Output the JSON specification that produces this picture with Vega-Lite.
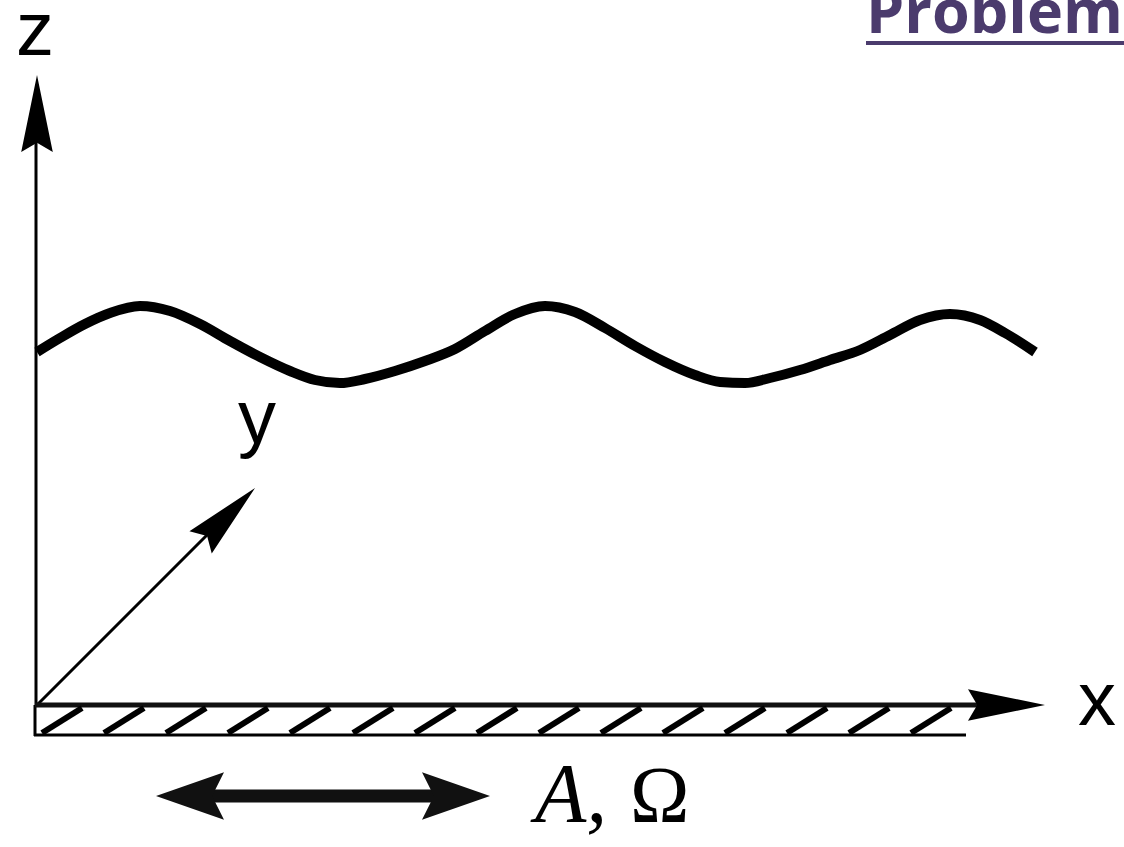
{
  "$schema": "https://vega.github.io/schema/vega-lite/v6.json",
  "width": 1124,
  "height": 847,
  "autosize": "none",
  "padding": 0,
  "background": "white",
  "config": {"view": {"stroke": null}},
  "datasets": {
    "wave": [
      {"x": 37, "z": 352}, {"x": 60, "z": 338}, {"x": 85, "z": 324}, {"x": 110, "z": 313},
      {"x": 140, "z": 306}, {"x": 170, "z": 311}, {"x": 200, "z": 324}, {"x": 230, "z": 341},
      {"x": 260, "z": 357}, {"x": 290, "z": 371}, {"x": 315, "z": 380}, {"x": 340, "z": 383},
      {"x": 365, "z": 379}, {"x": 395, "z": 371}, {"x": 425, "z": 361}, {"x": 455, "z": 349},
      {"x": 485, "z": 331}, {"x": 515, "z": 314}, {"x": 545, "z": 306}, {"x": 575, "z": 312},
      {"x": 605, "z": 328}, {"x": 635, "z": 346}, {"x": 665, "z": 362}, {"x": 695, "z": 375},
      {"x": 720, "z": 382}, {"x": 745, "z": 383}, {"x": 770, "z": 378}, {"x": 800, "z": 370},
      {"x": 830, "z": 360}, {"x": 860, "z": 350}, {"x": 890, "z": 335}, {"x": 920, "z": 320},
      {"x": 950, "z": 314}, {"x": 980, "z": 320}, {"x": 1005, "z": 333}, {"x": 1035, "z": 352}
    ],
    "thin": [
      {"x": 36, "z": 705, "x2": 36, "z2": 120},
      {"x": 37, "z": 705, "x2": 215, "z2": 527},
      {"x": 35, "z": 705, "x2": 35, "z2": 736},
      {"x": 34, "z": 735, "x2": 966, "z2": 735}
    ],
    "xaxis": [
      {"x": 35, "z": 705, "x2": 995, "z2": 705}
    ],
    "hatch": [
      {"x": 42, "z": 733, "x2": 82, "z2": 708},
      {"x": 104, "z": 733, "x2": 144, "z2": 708},
      {"x": 166, "z": 733, "x2": 206, "z2": 708},
      {"x": 228, "z": 733, "x2": 268, "z2": 708},
      {"x": 290, "z": 733, "x2": 330, "z2": 708},
      {"x": 353, "z": 733, "x2": 393, "z2": 708},
      {"x": 415, "z": 733, "x2": 455, "z2": 708},
      {"x": 477, "z": 733, "x2": 517, "z2": 708},
      {"x": 539, "z": 733, "x2": 579, "z2": 708},
      {"x": 601, "z": 733, "x2": 641, "z2": 708},
      {"x": 663, "z": 733, "x2": 703, "z2": 708},
      {"x": 725, "z": 733, "x2": 765, "z2": 708},
      {"x": 787, "z": 733, "x2": 827, "z2": 708},
      {"x": 849, "z": 733, "x2": 889, "z2": 708},
      {"x": 911, "z": 733, "x2": 951, "z2": 708}
    ],
    "bigarrow": [
      {"x": 195, "z": 796, "x2": 452, "z2": 796}
    ],
    "underline": [
      {"x": 866, "z": 43, "x2": 1124, "z2": 43}
    ],
    "heads": [
      {"x": 37, "z": 113.5, "dir": 0},
      {"x": 1006.5, "z": 705, "dir": 90},
      {"x": 227.8, "z": 515.2, "dir": 45}
    ],
    "bigheads": [
      {"x": 190, "z": 796, "dir": 270},
      {"x": 456, "z": 796, "dir": 90}
    ],
    "axislabels": [
      {"x": 35, "z": 55, "label": "z"},
      {"x": 1097, "z": 725, "label": "x"},
      {"x": 257, "z": 443, "label": "y"}
    ],
    "title": [
      {"x": 866, "z": 33, "label": "Problem"}
    ],
    "amp": [
      {"x": 535, "z": 822, "label": "A,"}
    ],
    "omega": [
      {"x": 630, "z": 822, "label": "Ω"}
    ]
  },
  "layer": [
    {
      "data": {"name": "wave"},
      "mark": {"type": "line", "color": "black", "strokeWidth": 10, "interpolate": "monotone"},
      "encoding": {
        "x": {"field": "x", "type": "quantitative", "scale": {"domain": [0, 1124], "range": [0, 1124], "nice": false, "zero": false}, "axis": null},
        "y": {"field": "z", "type": "quantitative", "scale": {"domain": [0, 847], "range": [0, 847], "nice": false, "zero": false}, "axis": null}
      }
    },
    {
      "data": {"name": "thin"},
      "mark": {"type": "rule", "color": "black", "strokeWidth": 3},
      "encoding": {
        "x": {"field": "x", "type": "quantitative"},
        "y": {"field": "z", "type": "quantitative"},
        "x2": {"field": "x2"},
        "y2": {"field": "z2"}
      }
    },
    {
      "data": {"name": "xaxis"},
      "mark": {"type": "rule", "color": "#111111", "strokeWidth": 5},
      "encoding": {
        "x": {"field": "x", "type": "quantitative"},
        "y": {"field": "z", "type": "quantitative"},
        "x2": {"field": "x2"},
        "y2": {"field": "z2"}
      }
    },
    {
      "data": {"name": "hatch"},
      "mark": {"type": "rule", "color": "black", "strokeWidth": 6},
      "encoding": {
        "x": {"field": "x", "type": "quantitative"},
        "y": {"field": "z", "type": "quantitative"},
        "x2": {"field": "x2"},
        "y2": {"field": "z2"}
      }
    },
    {
      "data": {"name": "bigarrow"},
      "mark": {"type": "rule", "color": "#111111", "strokeWidth": 13},
      "encoding": {
        "x": {"field": "x", "type": "quantitative"},
        "y": {"field": "z", "type": "quantitative"},
        "x2": {"field": "x2"},
        "y2": {"field": "z2"}
      }
    },
    {
      "data": {"name": "underline"},
      "mark": {"type": "rule", "color": "#4b3b6d", "strokeWidth": 4},
      "encoding": {
        "x": {"field": "x", "type": "quantitative"},
        "y": {"field": "z", "type": "quantitative"},
        "x2": {"field": "x2"},
        "y2": {"field": "z2"}
      }
    },
    {
      "data": {"name": "heads"},
      "mark": {"type": "point", "shape": "M0,-1L0.41,1L0,0.76L-0.41,1Z", "size": 5929, "filled": true, "color": "black", "opacity": 1, "strokeWidth": 0},
      "encoding": {
        "x": {"field": "x", "type": "quantitative"},
        "y": {"field": "z", "type": "quantitative"},
        "angle": {"field": "dir", "type": "quantitative", "scale": null}
      }
    },
    {
      "data": {"name": "bigheads"},
      "mark": {"type": "point", "shape": "M0,-1L0.7,1L0,0.65L-0.7,1Z", "size": 4624, "filled": true, "color": "#111111", "opacity": 1, "strokeWidth": 0},
      "encoding": {
        "x": {"field": "x", "type": "quantitative"},
        "y": {"field": "z", "type": "quantitative"},
        "angle": {"field": "dir", "type": "quantitative", "scale": null}
      }
    },
    {
      "data": {"name": "axislabels"},
      "mark": {"type": "text", "font": "Liberation Sans", "fontSize": 76, "color": "black", "align": "center", "baseline": "alphabetic"},
      "encoding": {
        "x": {"field": "x", "type": "quantitative"},
        "y": {"field": "z", "type": "quantitative"},
        "text": {"field": "label"}
      }
    },
    {
      "data": {"name": "title"},
      "mark": {"type": "text", "font": "Open Sans", "fontWeight": "bold", "fontSize": 61, "color": "#4b3b6d", "align": "left", "baseline": "alphabetic"},
      "encoding": {
        "x": {"field": "x", "type": "quantitative"},
        "y": {"field": "z", "type": "quantitative"},
        "text": {"field": "label"}
      }
    },
    {
      "data": {"name": "amp"},
      "mark": {"type": "text", "font": "Liberation Serif", "fontStyle": "italic", "fontSize": 84, "color": "black", "align": "left", "baseline": "alphabetic"},
      "encoding": {
        "x": {"field": "x", "type": "quantitative"},
        "y": {"field": "z", "type": "quantitative"},
        "text": {"field": "label"}
      }
    },
    {
      "data": {"name": "omega"},
      "mark": {"type": "text", "font": "Liberation Serif", "fontSize": 80, "color": "black", "align": "left", "baseline": "alphabetic"},
      "encoding": {
        "x": {"field": "x", "type": "quantitative"},
        "y": {"field": "z", "type": "quantitative"},
        "text": {"field": "label"}
      }
    }
  ]
}
